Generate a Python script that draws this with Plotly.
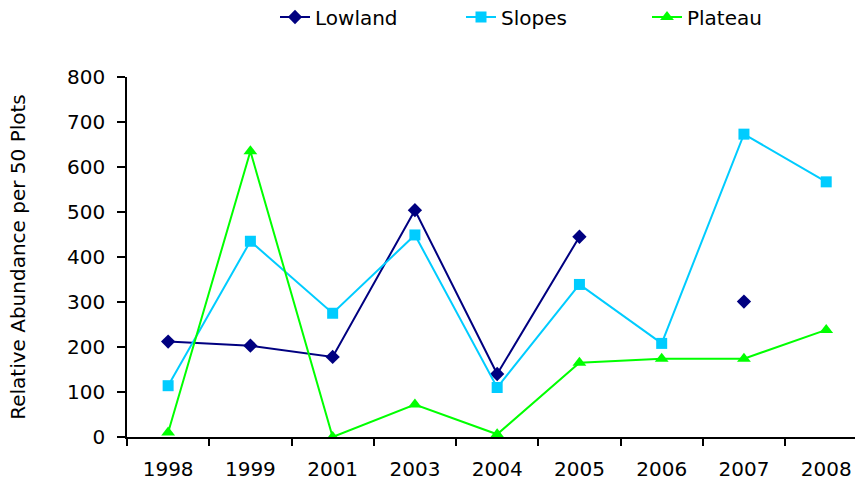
import plotly.graph_objects as go

years = ["1998", "1999", "2001", "2003", "2004", "2005", "2006", "2007", "2008"]
lowland = [212, 203, 178, 504, 140, 445, None, 301, None]
slopes = [114, 435, 275, 449, 110, 339, 208, 673, 567]
plateau = [10, 635, 0, 72, 6, 165, 174, 174, 238]

y_ticks = [0, 100, 200, 300, 400, 500, 600, 700, 800]

FONT = "DejaVu Sans"

fig = go.Figure()
fig.add_trace(go.Scatter(
    x=years, y=lowland, name="Lowland", mode="lines+markers",
    line=dict(color="#000080", width=2),
    marker=dict(symbol="diamond", size=11, color="#000080"),
    connectgaps=False,
))
fig.add_trace(go.Scatter(
    x=years, y=slopes, name="Slopes", mode="lines+markers",
    line=dict(color="#00CCFF", width=2),
    marker=dict(symbol="square", size=11, color="#00CCFF"),
))
fig.add_trace(go.Scatter(
    x=years, y=plateau, name="Plateau", mode="lines+markers",
    line=dict(color="#00FF00", width=2),
    marker=dict(symbol="triangle-up", size=12, color="#00FF00"),
))

fig.update_layout(
    width=855, height=487,
    margin=dict(l=127, r=0, t=77, b=50),
    paper_bgcolor="white", plot_bgcolor="white",
    font=dict(family=FONT, size=20, color="black"),
    showlegend=True,
    legend=dict(
        orientation="h", xref="container", yref="container",
        x=275 / 855, y=1 - 17 / 487, xanchor="left", yanchor="middle",
        entrywidth=141, entrywidthmode="pixels",
        font=dict(family=FONT, size=20, color="black"),
        bgcolor="rgba(0,0,0,0)",
    ),
    xaxis=dict(
        type="category", range=[-0.5, 8.35],
        showline=True, linecolor="black", linewidth=2,
        ticks="outside", tickson="boundaries", ticklen=7, tickwidth=1.5, tickcolor="black",
        showgrid=False, zeroline=False,
        tickfont=dict(family=FONT, size=20, color="black"),
        ticklabelstandoff=13,
    ),
    yaxis=dict(
        range=[0, 800], tickvals=y_ticks,
        showline=True, linecolor="black", linewidth=1.5,
        ticks="outside", ticklen=8, tickwidth=1.5, tickcolor="black",
        showgrid=False, zeroline=False,
        tickfont=dict(family=FONT, size=20, color="black"),
        title=dict(text="Relative Abundance per 50 Plots",
                   font=dict(family=FONT, size=20, color="black"), standoff=36),
        ticklabelstandoff=8,
    ),
)

fig.write_html(
    "out.html",
    config={"displayModeBar": False},
    post_script="document.body.style.margin='0';document.body.style.overflow='hidden';",
)
